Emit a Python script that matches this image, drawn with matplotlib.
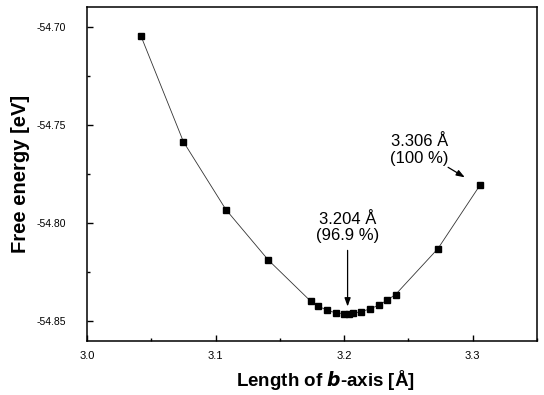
import matplotlib
matplotlib.use('Agg')
import matplotlib.pyplot as plt
from matplotlib.ticker import MultipleLocator

plt.rcParams['font.family'] = ['Liberation Sans', 'DejaVu Sans']

# b-axis length [A] and free energy [eV]
b_len = [3.042, 3.075, 3.108, 3.141, 3.174, 3.180, 3.187, 3.194, 3.200, 3.204,
         3.207, 3.213, 3.220, 3.227, 3.233, 3.240, 3.273, 3.306]
energy = [-54.7048, -54.7586, -54.7931, -54.8188, -54.8398, -54.8423, -54.8445,
          -54.8458, -54.8461, -54.8462, -54.8459, -54.8452, -54.8437, -54.8418,
          -54.8394, -54.8364, -54.8130, -54.7804]

x_ticks = [3.0, 3.1, 3.2, 3.3]
y_ticks = [-54.85, -54.80, -54.75, -54.70]

fig = plt.figure(figsize=(5.44, 3.95), dpi=100)
ax = fig.add_axes([0.160, 0.137, 0.827, 0.845])

ax.plot(b_len, energy, color='#333333', lw=0.6, marker='s', ms=4.6,
        mfc='black', mec='black', zorder=3)

ax.set_xlim(3.0, 3.35)
ax.set_ylim(-54.86, -54.69)
ax.set_xticks(x_ticks)
ax.set_xticklabels(['%.1f' % v for v in x_ticks])
ax.set_yticks(y_ticks)
ax.set_yticklabels(['%.2f' % v for v in y_ticks])
ax.xaxis.set_minor_locator(MultipleLocator(0.05))
ax.yaxis.set_minor_locator(MultipleLocator(0.025))

ax.tick_params(which='both', direction='in', top=False, right=False, width=1.0)
ax.tick_params(which='major', length=4)
ax.tick_params(which='minor', length=2.5)
ax.tick_params(axis='x', labelsize=8, pad=7)
ax.tick_params(axis='y', labelsize=7.5, pad=15)

for s in ax.spines.values():
    s.set_linewidth(1.1)

ax.set_xlabel('Length of $\\boldsymbol{b}$-axis [Å]', fontsize=13.5, fontweight='bold')
ax.set_ylabel('Free energy [eV]', fontsize=14.5, fontweight='bold')
ax.xaxis.set_label_coords(0.529, -0.08)
ax.yaxis.set_label_coords(-0.127, 0.5)

# annotations
ax.text(3.2027, -54.8022, '3.204 Å\n(96.9 %)', ha='center', va='center',
        fontsize=12, linespacing=1.1)
ax.annotate('', xy=(3.2027, -54.8425), xytext=(3.2027, -54.8139),
            arrowprops=dict(arrowstyle='-|>,head_length=0.5,head_width=0.18',
                            color='black', lw=0.9, shrinkA=0, shrinkB=0))

ax.text(3.2588, -54.7628, '3.306 Å\n(100 %)', ha='center', va='center',
        fontsize=12, linespacing=1.1)
ax.annotate('', xy=(3.2939, -54.7767), xytext=(3.2809, -54.7716),
            arrowprops=dict(arrowstyle='-|>,head_length=0.5,head_width=0.18',
                            color='black', lw=0.9, shrinkA=0, shrinkB=0))

fig.savefig('out.png', dpi=100)
